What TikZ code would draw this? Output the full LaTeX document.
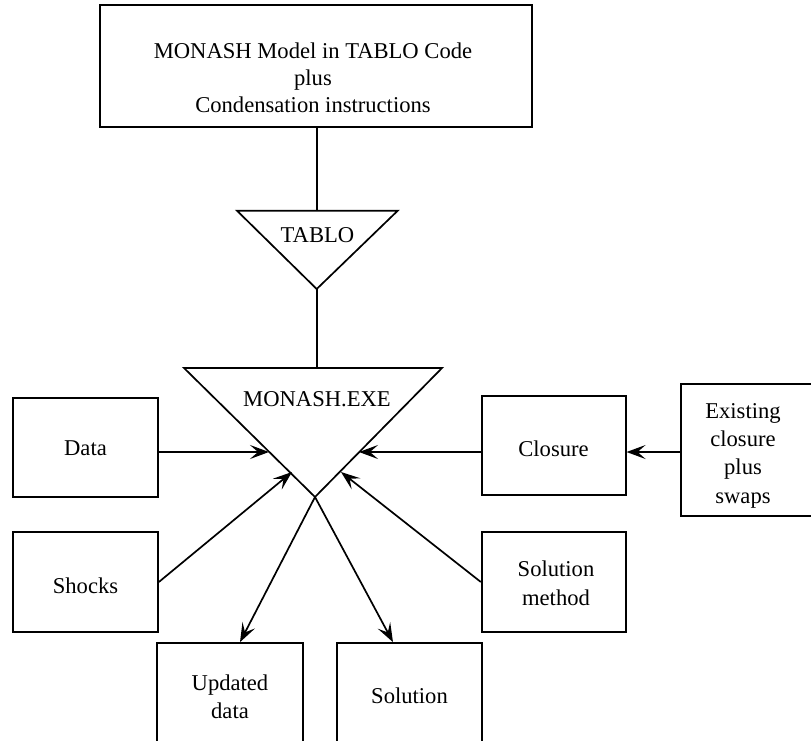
\documentclass[tikz,border=0pt]{standalone}
\usepackage{fontspec}
\setmainfont{Liberation Serif}
\usetikzlibrary{arrows.meta}
\begin{document}
\begin{tikzpicture}[x=1pt,y=-1pt, line width=1.7pt,
  box/.style={draw, rectangle, inner sep=0pt},
  lbl/.style={font=\fontsize{22.6}{28}\selectfont, inner sep=0pt, align=center},
  arr/.style={-{Stealth[length=19pt,width=14pt,inset=8pt]}}]
\clip (0,0) rectangle (811,740);
% boxes
\node[box, minimum width=432pt, minimum height=122pt] (top) at (316,66) {};
\node[box, minimum width=145pt, minimum height=99pt] (data) at (85.5,447.5) {};
\node[box, minimum width=145pt, minimum height=100pt] (shocks) at (85.5,582) {};
\node[box, minimum width=144pt, minimum height=99pt] (closure) at (553.7,445.5) {};
\node[box, minimum width=144.3pt, minimum height=131.7pt] (exist) at (752.85,449.85) {};
\node[box, minimum width=144pt, minimum height=100pt] (solm) at (553.7,582) {};
\node[box, minimum width=146pt, minimum height=157pt] (upd) at (230,721.5) {};
\node[box, minimum width=145pt, minimum height=157pt] (sol) at (409.5,721.5) {};
% triangles
\coordinate (t1) at (237,210.7);
\coordinate (t2) at (397.7,210.7);
\coordinate (t3) at (316.7,289);
\coordinate (tablotop) at (316.7,210.7);
\coordinate (m1) at (184,368);
\coordinate (m2) at (442,368);
\coordinate (m3) at (315,497);
\coordinate (mtop) at (316.7,368);
\draw[line join=miter] (t1) -- (t2) -- (t3) -- cycle;
\draw[line join=miter] (m1) -- (m2) -- (m3) -- cycle;
\draw (top.south -| tablotop) -- (tablotop);
\draw (t3) -- (mtop);
% arrow tips on the triangle
\coordinate (dtip) at (269,452);
\coordinate (stip) at (292,472);
\coordinate (ctip) at (359,452);
\coordinate (smtip) at (341,472);
\coordinate (udtip) at (240,643);
\coordinate (sltip) at (393,643);
\draw[arr] (data.east |- dtip) -- (dtip);
\draw[arr] (shocks.east) -- (stip);
\draw[arr] (closure.west |- ctip) -- (ctip);
\draw[arr] (exist.west |- ctip) -- (closure.east |- ctip);
\draw[arr] (solm.west) -- (smtip);
\draw[arr] (m3) -- (upd.north -| udtip);
\draw[arr] (m3) -- (sol.north -| sltip);
% texts
\node[lbl, font=\fontsize{22.6}{27.2}\selectfont] (toptxt) at (313,77.7) {MONASH Model in TABLO Code\\plus\\Condensation instructions};
\node[lbl, anchor=base] (tablotxt) at (317.5,242.3) {TABLO};
\node[lbl, anchor=base] (exetxt) at (317,406) {MONASH.EXE};
\node[lbl, anchor=base] (datatxt) at (85.5,455) {Data};
\node[lbl, anchor=base] (shockstxt) at (85.5,593.3) {Shocks};
\node[lbl, anchor=base] (closuretxt) at (553.5,456) {Closure};
\node[lbl, font=\fontsize{22.6}{28.3}\selectfont] (existtxt) at (743,455.5) {Existing\\closure\\plus\\swaps};
\node[lbl, font=\fontsize{22.6}{29}\selectfont] (solmtxt) at (556,583.5) {Solution\\method};
\node[lbl] (updtxt) at (230,696.3) {Updated\\data};
\node[lbl, anchor=base] (soltxt) at (409.5,703.3) {Solution};
\end{tikzpicture}
\end{document}
